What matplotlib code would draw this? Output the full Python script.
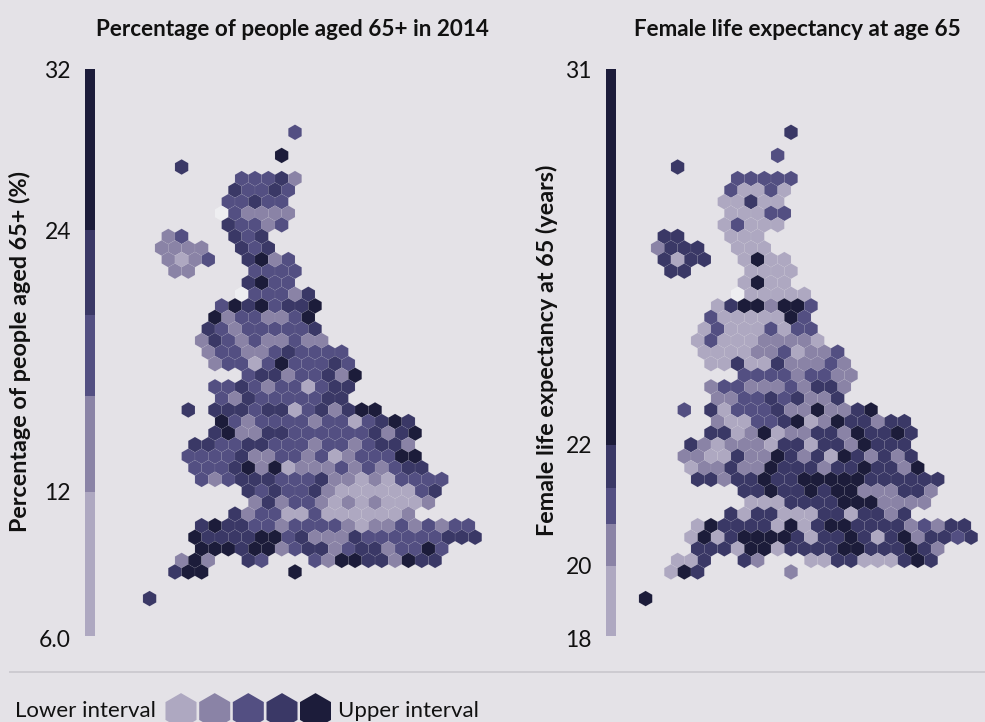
import numpy as np
import matplotlib
matplotlib.use("Agg")
import matplotlib.pyplot as plt
from matplotlib.collections import PolyCollection

plt.rcParams['font.family'] = ['Lato', 'DejaVu Sans']

# Interval class of each area: 1 = lower ... 5 = upper, 0 = no data, '.' = no hexagon.
AGED_65_GRID = [
    "...........3", "",
    "..........5", "..4",
    ".......33342", "......43343", "......33433", ".....032222", "......43323",
    ".23...434", ".2222..434", ".2123..4523", "..22....3333", ".......4533",
    ".......033324", ".....35453445", ".....52332235", "....432333334",
    "....2432322322", "....23322343333", ".....23313533343", ".......344233425",
    ".....33432331344", ".....3243333344", "...4.4443441342455",
    ".....532333323313454", ".....4522443333334245", "...44334433323323442",
    "...333342233231233355", "...333452512223232344", "....3234443334221213333",
    ".......434334211111134", "........24233212121112", "......42331131111112",
    "....454433233332122323233", "...5444455342224333333444",
    "....5554552344234423353", "..252..43...3255442544", "..455......5",
]
LIFE_EXP_GRID = [
    "...........4", "",
    "..........3", "..4",
    ".......33333", "......31131", "......11411", "......11133", "......13111",
    ".44...111", ".2444..111", ".4144..1511", "..44....1111", ".......1511",
    ".......011111", ".....14552553", ".....31111153", "....131113133",
    "....1311122221", "....11112231223", ".....11411422232", ".......333323322",
    ".....23322232442", ".....2233434224", "...3.4133342252245",
    ".....211334512544244", ".....4412512244254454", "...42122214414425444",
    "...221142254241542424", "...122422544424454425", "....4424454455555444444",
    ".......445445455222442", "........11144445552222", "......41441114414424",
    "....154444151455444423244", "...1514555541445414524434",
    "....4441551444455444542", "..114..42...1144111454", "..154......2",
]
AGED_65_OUTLIER = 4   # detached south-western island hexagon
LIFE_EXP_OUTLIER = 5

AGED_BAND_SHARES = [0.2540, 0.1680, 0.1435, 0.1500, 0.2845]
LIFE_BAND_SHARES = [0.1235, 0.0740, 0.0635, 0.0760, 0.6630]
AGED_TICKS = ["6.0", "12", "24", "32"]
LIFE_TICKS = ["18", "20", "22", "31"]
TITLES = ["Percentage of people aged 65+ in 2014", "Female life expectancy at age 65"]
YLABELS = ["Percentage of people aged 65+ (%)", "Female life expectancy at 65 (years)"]

BG = "#e4e2e7"
COLORS = {"0": "#eeeef1", "1": "#aea8c1", "2": "#8a83a6", "3": "#534f82", "4": "#3a3866", "5": "#1c1c3a"}
INK = "#111111"

W, H = 985, 722
fig = plt.figure(figsize=(W / 100, H / 100), dpi=100, facecolor=BG)
ax = fig.add_axes([0, 0, 1, 1])
ax.set_xlim(0, W)
ax.set_ylim(H, 0)
ax.axis("off")

DX, DY = 13.34, 11.57
SIDE = DY / 1.5


def hexagon(cx, cy, s=SIDE):
    a = np.deg2rad(np.arange(30, 390, 60))
    return np.column_stack([cx + s * np.cos(a), cy + s * np.sin(a)])


def draw_map(grid, outlier, x0, y0=132.3):
    polys, cols = [], []
    for r, row in enumerate(grid):
        for c, v in enumerate(row):
            if v == ".":
                continue
            u = 2 * c + (r % 2) - 22
            polys.append(hexagon(x0 + u * DX / 2, y0 + r * DY))
            cols.append(COLORS[v])
    polys.append(hexagon(x0 - 21.8 * DX / 2, y0 + 40.3 * DY))
    cols.append(COLORS[str(outlier)])
    ax.add_collection(PolyCollection(polys, facecolors=cols,
                                     edgecolors=(1, 1, 1, 0.07), linewidths=0.5))


draw_map(AGED_65_GRID, AGED_65_OUTLIER, 295.0)
draw_map(LIFE_EXP_GRID, LIFE_EXP_OUTLIER, 791.0)


def draw_bar(shares, x):
    top, bottom = 68.8, 635.6
    span = bottom - top
    edges = [bottom]
    for i, s in enumerate(shares):
        ax.bar(x, -s * span, width=10.3, bottom=edges[-1], align="edge",
               color=COLORS[str(i + 1)], linewidth=0)
        edges.append(edges[-1] - s * span)
    return edges


BAR_FS = 16.5
e1 = draw_bar(AGED_BAND_SHARES, 85)
e2 = draw_bar(LIFE_BAND_SHARES, 606)
for lab, y in zip(AGED_TICKS, [e1[0] + 3, e1[1], e1[4], e1[5] + 1]):
    ax.text(71, y, lab, ha="right", va="center_baseline", fontsize=BAR_FS, color=INK)
for lab, y in zip(LIFE_TICKS, [e2[0] + 3, e2[1], e2[4], e2[5] + 1]):
    ax.text(592, y, lab, ha="right", va="center_baseline", fontsize=BAR_FS, color=INK)

ax.text(292.5, 27, TITLES[0], ha="center", va="center_baseline", fontsize=16.2, fontweight="bold", color=INK)
ax.text(797, 27, TITLES[1], ha="center", va="center_baseline", fontsize=16.2, fontweight="bold", color=INK)
ax.text(20, 352, YLABELS[0], ha="center", va="center", rotation=90, fontsize=16.8, fontweight="bold", color=INK)
ax.text(546.5, 350, YLABELS[1], ha="center", va="center", rotation=90, fontsize=16.8, fontweight="bold", color=INK)

ax.plot([9, W], [671.5, 671.5], color="#c9c7cd", lw=1.2, solid_capstyle="butt")

ax.text(15, 709, "Lower interval", ha="left", va="center_baseline", fontsize=16, color=INK)
ax.text(338, 709, "Upper interval", ha="left", va="center_baseline", fontsize=16, color=INK)
legend_polys = [hexagon(cx, 711, 17.9) for cx in [181, 214.7, 248.3, 282, 315.5]]
ax.add_collection(PolyCollection(legend_polys, facecolors=[COLORS[k] for k in "12345"], linewidths=0))

fig.savefig("out.png", dpi=100, facecolor=BG)
